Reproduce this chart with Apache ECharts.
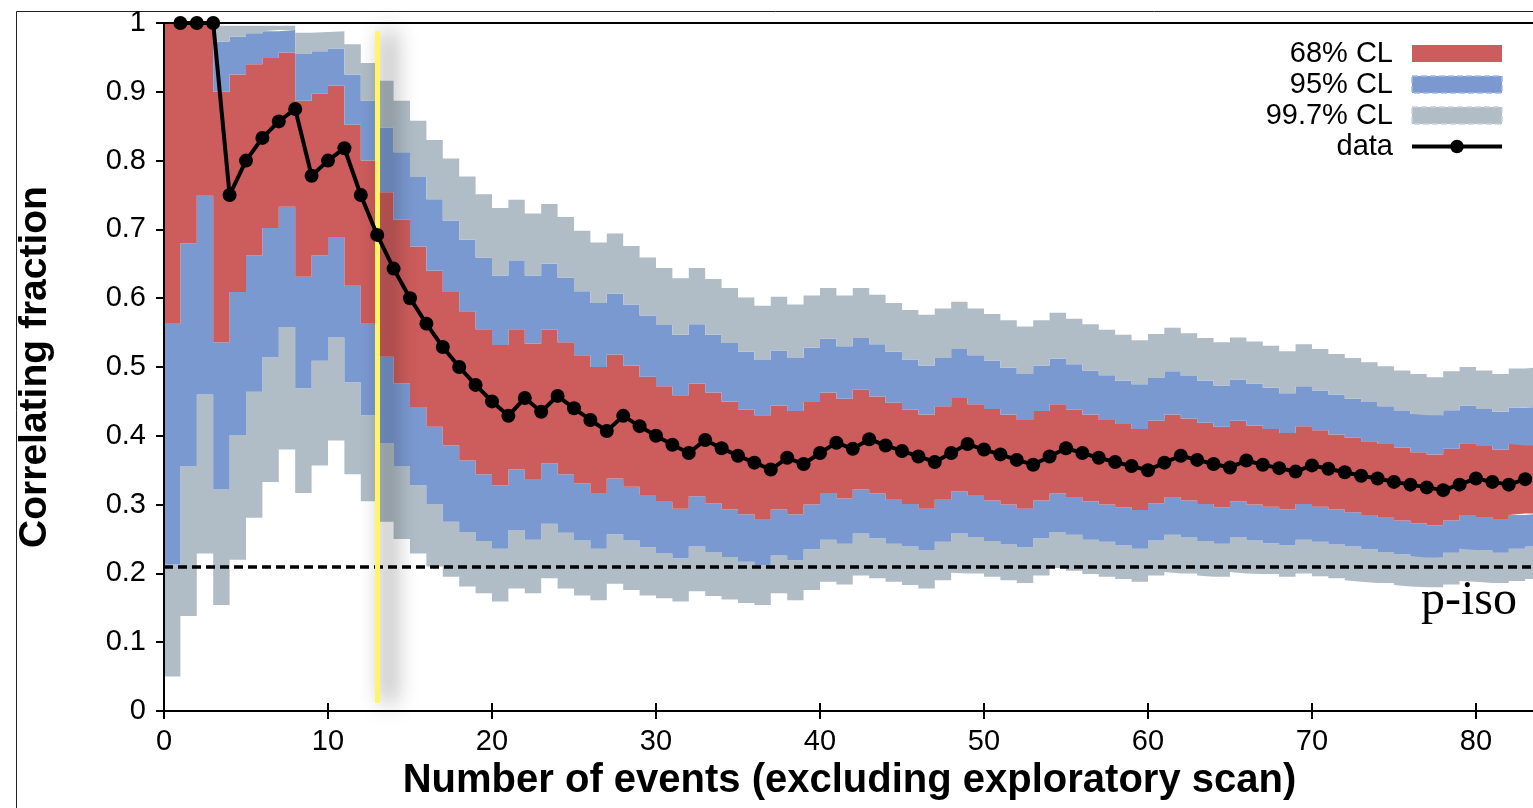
<!DOCTYPE html>
<html>
<head>
<meta charset="utf-8">
<title>Correlating fraction vs number of events</title>
<script src="https://cdn.jsdelivr.net/npm/echarts@6/dist/echarts.min.js"></script>
<style>
  html, body { margin: 0; padding: 0; background: #ffffff; }
  #chart { width: 1533px; height: 808px; }
</style>
</head>
<body>
<div id="chart"></div>
<script>
// Observed correlating fraction after n events (n = 1..83)
const events = [];
for (let n = 1; n <= 83; n++) events.push(n);
const fraction = [
  1, 1, 1, 0.75, 0.8, 0.833, 0.857, 0.875, 0.778, 0.8,
  0.818, 0.75, 0.692, 0.643, 0.6, 0.563, 0.529, 0.5, 0.474, 0.45,
  0.429, 0.455, 0.435, 0.458, 0.44, 0.423, 0.407, 0.429, 0.414, 0.4,
  0.387, 0.375, 0.394, 0.382, 0.371, 0.361, 0.351, 0.368, 0.359, 0.375,
  0.39, 0.381, 0.395, 0.386, 0.378, 0.37, 0.362, 0.375, 0.388, 0.38,
  0.373, 0.365, 0.358, 0.37, 0.382, 0.375, 0.368, 0.362, 0.356, 0.35,
  0.361, 0.371, 0.365, 0.359, 0.354, 0.364, 0.358, 0.353, 0.348, 0.357,
  0.352, 0.347, 0.342, 0.338, 0.333, 0.329, 0.325, 0.321, 0.329, 0.338,
  0.333, 0.329, 0.337
];

// Confidence bands, one value per bin; bin n spans events n-1 .. n (n = 1..84)
const upper997 = [
  1, 1, 1, 0.996, 0.996, 0.996, 0.996, 0.996, 0.986, 0.987,
  0.988, 0.969, 0.942, 0.916, 0.887, 0.858, 0.830, 0.803, 0.777, 0.751,
  0.731, 0.743, 0.723, 0.737, 0.718, 0.698, 0.681, 0.694, 0.676, 0.659,
  0.644, 0.629, 0.644, 0.628, 0.615, 0.601, 0.589, 0.602, 0.591, 0.604,
  0.615, 0.604, 0.615, 0.605, 0.593, 0.583, 0.576, 0.585, 0.595, 0.585,
  0.577, 0.568, 0.559, 0.568, 0.579, 0.570, 0.562, 0.554, 0.547, 0.539,
  0.548, 0.557, 0.549, 0.542, 0.536, 0.543, 0.537, 0.531, 0.523, 0.533,
  0.526, 0.519, 0.513, 0.507, 0.501, 0.495, 0.490, 0.485, 0.494, 0.500,
  0.495, 0.490, 0.498, 0.500
];
const upper95 = [
  1, 1, 1, 0.973, 0.980, 0.985, 0.988, 0.990, 0.955, 0.959,
  0.963, 0.925, 0.887, 0.848, 0.812, 0.776, 0.744, 0.713, 0.685, 0.659,
  0.633, 0.654, 0.633, 0.650, 0.630, 0.610, 0.593, 0.607, 0.591, 0.575,
  0.561, 0.547, 0.562, 0.547, 0.535, 0.522, 0.510, 0.524, 0.513, 0.528,
  0.541, 0.530, 0.542, 0.533, 0.522, 0.511, 0.502, 0.513, 0.526, 0.517,
  0.509, 0.499, 0.490, 0.502, 0.512, 0.504, 0.495, 0.488, 0.480, 0.475,
  0.484, 0.494, 0.487, 0.480, 0.473, 0.482, 0.476, 0.470, 0.462, 0.472,
  0.466, 0.460, 0.454, 0.449, 0.443, 0.436, 0.432, 0.430, 0.437, 0.444,
  0.439, 0.435, 0.441, 0.442
];
const upper68 = [
  1, 1, 1, 0.900, 0.925, 0.940, 0.949, 0.957, 0.887, 0.897,
  0.909, 0.852, 0.800, 0.754, 0.714, 0.675, 0.640, 0.609, 0.581, 0.555,
  0.532, 0.555, 0.534, 0.554, 0.536, 0.517, 0.500, 0.518, 0.502, 0.486,
  0.472, 0.459, 0.476, 0.463, 0.450, 0.438, 0.430, 0.444, 0.436, 0.449,
  0.463, 0.454, 0.467, 0.457, 0.448, 0.438, 0.431, 0.443, 0.455, 0.446,
  0.439, 0.431, 0.423, 0.436, 0.446, 0.438, 0.431, 0.423, 0.417, 0.410,
  0.422, 0.431, 0.425, 0.419, 0.413, 0.422, 0.415, 0.410, 0.404, 0.414,
  0.408, 0.402, 0.397, 0.392, 0.388, 0.383, 0.376, 0.373, 0.381, 0.389,
  0.385, 0.380, 0.388, 0.386
];
const lower68 = [
  0.563, 0.680, 0.749, 0.536, 0.609, 0.662, 0.702, 0.733, 0.631, 0.662,
  0.689, 0.618, 0.563, 0.515, 0.476, 0.442, 0.413, 0.386, 0.364, 0.344,
  0.328, 0.351, 0.336, 0.360, 0.344, 0.331, 0.317, 0.338, 0.326, 0.314,
  0.304, 0.294, 0.312, 0.302, 0.293, 0.286, 0.278, 0.293, 0.286, 0.300,
  0.317, 0.309, 0.322, 0.316, 0.307, 0.301, 0.294, 0.307, 0.319, 0.313,
  0.306, 0.300, 0.294, 0.306, 0.316, 0.311, 0.305, 0.300, 0.296, 0.292,
  0.302, 0.311, 0.306, 0.301, 0.296, 0.305, 0.300, 0.297, 0.293, 0.301,
  0.297, 0.293, 0.289, 0.285, 0.281, 0.277, 0.273, 0.270, 0.277, 0.285,
  0.282, 0.279, 0.285, 0.287
];
const lower95 = [
  0.213, 0.356, 0.460, 0.322, 0.401, 0.464, 0.514, 0.558, 0.469, 0.509,
  0.543, 0.478, 0.430, 0.389, 0.356, 0.328, 0.301, 0.275, 0.260, 0.247,
  0.236, 0.263, 0.249, 0.272, 0.259, 0.248, 0.236, 0.257, 0.248, 0.238,
  0.229, 0.222, 0.239, 0.231, 0.224, 0.217, 0.212, 0.226, 0.219, 0.235,
  0.249, 0.243, 0.258, 0.251, 0.243, 0.239, 0.234, 0.246, 0.258, 0.253,
  0.247, 0.242, 0.238, 0.251, 0.260, 0.256, 0.249, 0.246, 0.241, 0.236,
  0.248, 0.256, 0.252, 0.247, 0.243, 0.253, 0.248, 0.244, 0.241, 0.249,
  0.246, 0.242, 0.239, 0.235, 0.231, 0.228, 0.225, 0.223, 0.230, 0.236,
  0.234, 0.230, 0.236, 0.239
];
const lower997 = [
  0.050, 0.138, 0.229, 0.154, 0.220, 0.281, 0.333, 0.380, 0.317, 0.357,
  0.393, 0.344, 0.305, 0.275, 0.250, 0.229, 0.210, 0.195, 0.181, 0.171,
  0.159, 0.178, 0.171, 0.193, 0.178, 0.168, 0.161, 0.185, 0.176, 0.168,
  0.164, 0.159, 0.174, 0.167, 0.162, 0.157, 0.154, 0.171, 0.161, 0.176,
  0.188, 0.184, 0.197, 0.193, 0.188, 0.183, 0.178, 0.190, 0.201, 0.200,
  0.195, 0.190, 0.186, 0.197, 0.208, 0.204, 0.199, 0.195, 0.192, 0.188,
  0.197, 0.202, 0.200, 0.197, 0.195, 0.202, 0.200, 0.199, 0.195, 0.200,
  0.196, 0.193, 0.190, 0.188, 0.186, 0.183, 0.181, 0.180, 0.184, 0.189,
  0.188, 0.186, 0.189, 0.192
];

const isoFraction = 0.21;      // isotropic expectation
const scanEnd = 13;            // last event of the exploratory scan
const xTicks = [0, 10, 20, 30, 40, 50, 60, 70, 80];
const yTicks = [0, 0.1, 0.2, 0.3, 0.4, 0.5, 0.6, 0.7, 0.8, 0.9, 1];

const COLOR_68 = '#cd5c5c';
const COLOR_95 = '#7b99d1';
const COLOR_997 = '#b0bdc7';
const FONT = '"Liberation Sans", Arial, Helvetica, sans-serif';

// Step points stored as [value, event] so the stacked dimension is the y value.
// The value of bin n is held over events [n-1, n].
function stepData(values) {
  const pts = [[values[0], 0]];
  values.forEach((v, i) => pts.push([v, i + 1]));
  return pts;
}
function diff(a, b) { return a.map((v, i) => v - b[i]); }

function bandLayer(name, values, color) {
  return {
    name: name,
    type: 'line',
    stack: 'cl',
    step: 'start',
    data: stepData(values),
    encode: { x: 1, y: 0 },
    showSymbol: false,
    symbol: 'none',
    color: color || '#ffffff',
    lineStyle: { width: 0, opacity: 0 },
    areaStyle: color ? { color: color, opacity: 1 } : { opacity: 0 },
    silent: true,
    z: 2
  };
}

const chart = echarts.init(document.getElementById('chart'), null, { renderer: 'canvas' });

chart.setOption({
  animation: false,
  textStyle: { fontFamily: FONT, color: '#000' },
  graphic: [{
    type: 'rect',
    silent: true,
    z: -10,
    shape: { x: 16.5, y: 11.5, width: 1700, height: 900 },
    style: { fill: 'none', stroke: '#222', lineWidth: 1 }
  }],
  grid: {
    left: 164, right: -2, top: 23, bottom: 97,
    containLabel: false,
    outerBoundsMode: 'none',
    show: true,
    backgroundColor: 'transparent',
    borderColor: '#000',
    borderWidth: 2,
    z: 10
  },
  legend: {
    orient: 'vertical',
    right: 29,
    top: 39,
    align: 'right',
    padding: 0,
    itemGap: 2,
    itemWidth: 90,
    itemHeight: 17,
    selectedMode: false,
    textStyle: { fontSize: 29, color: '#000', fontFamily: FONT, padding: [0, 14, 0, 0] },
    lineStyle: { width: 'inherit' },
    data: [
      { name: '68% CL', icon: 'rect', itemStyle: { color: COLOR_68, opacity: 1, borderWidth: 0 } },
      { name: '95% CL', icon: 'rect', itemStyle: { color: COLOR_95, opacity: 1, borderColor: '#a6bbe2', borderWidth: 1.5, borderType: 'dashed' } },
      { name: '99.7% CL', icon: 'rect', itemStyle: { color: COLOR_997, opacity: 1, borderColor: '#cbd4dc', borderWidth: 1.5, borderType: 'dashed' } },
      { name: 'data' }
    ]
  },
  xAxis: [{
    type: 'value',
    position: 'bottom',
    min: xTicks[0],
    max: 83.6,
    interval: 10,
    axisLine: { show: false },
    axisTick: { inside: true, length: 8, lineStyle: { color: '#000', width: 2 } },
    splitLine: { show: false },
    axisLabel: { fontSize: 29, color: '#000', fontFamily: FONT, margin: 16, showMaxLabel: false },
    name: 'Number of events (excluding exploratory scan)',
    nameLocation: 'middle',
    nameGap: 50,
    nameMoveOverlap: false,
    nameTextStyle: { fontSize: 40, fontWeight: 'bold', color: '#000', fontFamily: FONT }
  }, {
    type: 'value',
    position: 'top',
    min: xTicks[0],
    max: 83.6,
    interval: 10,
    axisLine: { show: false },
    axisTick: { inside: true, length: 8, lineStyle: { color: '#000', width: 2 } },
    splitLine: { show: false },
    axisLabel: { show: false }
  }],
  yAxis: [{
    type: 'value',
    position: 'left',
    min: yTicks[0],
    max: yTicks[yTicks.length - 1],
    interval: 0.1,
    axisLine: { show: false },
    axisTick: { inside: true, length: 8, lineStyle: { color: '#000', width: 2 } },
    splitLine: { show: false },
    axisLabel: { fontSize: 29, color: '#000', fontFamily: FONT, margin: 18 },
    name: 'Correlating fraction',
    nameLocation: 'middle',
    nameRotate: 90,
    nameGap: 109,
    nameMoveOverlap: false,
    nameTextStyle: { fontSize: 39, fontWeight: 'bold', color: '#000', fontFamily: FONT }
  }, {
    type: 'value',
    position: 'right',
    min: yTicks[0],
    max: yTicks[yTicks.length - 1],
    interval: 0.1,
    axisLine: { show: false },
    axisTick: { inside: true, length: 8, lineStyle: { color: '#000', width: 2 } },
    splitLine: { show: false },
    axisLabel: { show: false }
  }],
  series: [
    bandLayer('base', lower997, null),
    bandLayer('99.7% CL', diff(lower95, lower997), COLOR_997),
    bandLayer('95% CL', diff(lower68, lower95), COLOR_95),
    bandLayer('68% CL', diff(upper68, lower68), COLOR_68),
    bandLayer('95% CL', diff(upper95, upper68), COLOR_95),
    bandLayer('99.7% CL', diff(upper997, upper95), COLOR_997),
    {
      name: 'data',
      type: 'line',
      data: events.map((n, i) => [n, fraction[i]]),
      symbol: 'circle',
      symbolSize: 14,
      showSymbol: true,
      color: '#000',
      lineStyle: { color: '#000', width: 4 },
      itemStyle: { color: '#000' },
      silent: true,
      z: 10,
      markLine: {
        silent: true,
        symbol: ['none', 'none'],
        animation: false,
        label: { show: false },
        emphasis: { disabled: true },
        data: [
          {
            yAxis: isoFraction,
            lineStyle: { color: '#000', width: 3.5, type: [9, 5] },
            label: {
              show: true,
              formatter: 'p-iso',
              position: 'insideEndBottom',
              distance: [18, 11],
              fontFamily: '"Liberation Serif", "Times New Roman", serif',
              fontSize: 48,
              color: '#000'
            }
          },
          [
            { coord: [scanEnd, 0.988] },
            {
              coord: [scanEnd, 0.012],
              lineStyle: {
                color: '#fff566', width: 5, type: 'solid',
                shadowColor: 'rgba(0,0,0,0.85)', shadowBlur: 22, shadowOffsetX: 11
              }
            }
          ]
        ]
      }
    }
  ]
});
</script>
</body>
</html>
